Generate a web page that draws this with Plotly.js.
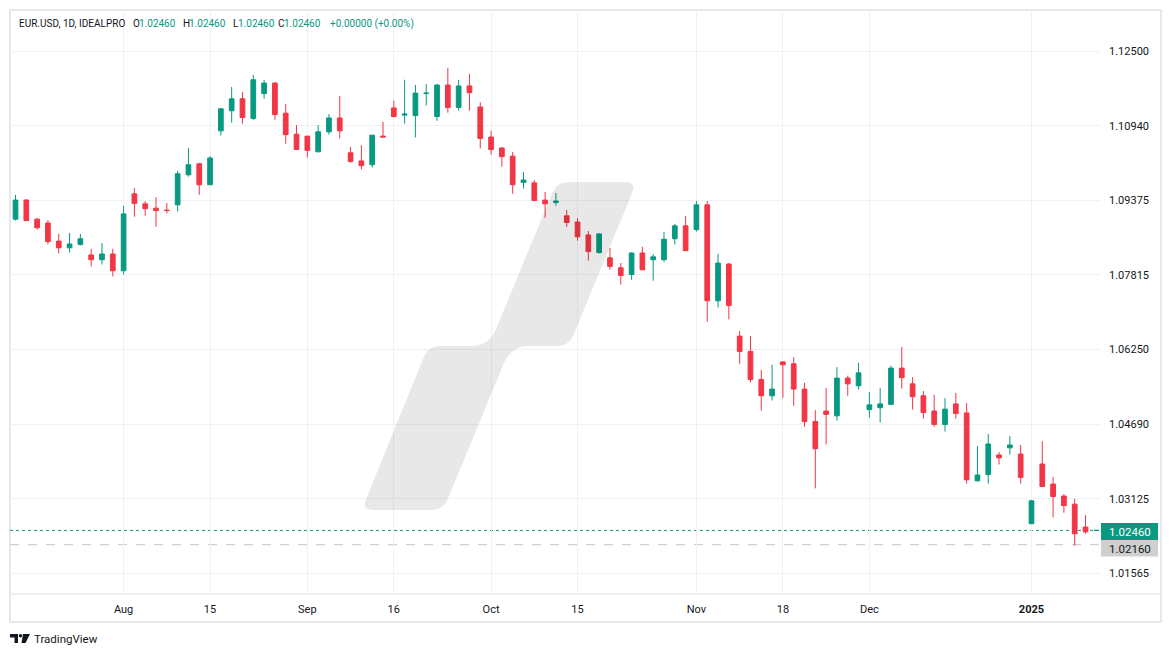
<!DOCTYPE html>
<html>
<head>
<meta charset="utf-8">
<script src="https://cdn.plot.ly/plotly-3.0.1.min.js"></script>
<style>
html,body{margin:0;padding:0;background:#fff;}
#chart{width:1171px;height:657px;}
</style>
</head>
<body>
<div id="chart"></div>
<script>
// ---- data (EUR.USD daily bars) ----
const open = [
1.0898,1.0938,1.0898,1.0890,1.0852,1.0838,1.0845,1.0823,1.0813,1.0825,
1.0790,1.0951,1.0930,1.0921,1.0917,1.0928,1.0991,1.1014,1.0970,1.1083,
1.1125,1.1150,1.1109,1.1161,1.1183,1.1120,1.1076,1.1072,1.1039,1.1081,
1.1110,1.1037,1.1020,1.1012,1.1072,1.1131,1.1116,1.1115,1.1161,1.1113,
1.1179,1.1132,1.1177,1.1133,1.1070,1.1047,1.1030,1.0975,1.0974,1.0938,
1.0933,1.0905,1.0892,1.0865,1.0828,1.0817,1.0796,1.0782,1.0827,1.0813,
1.0813,1.0857,1.0884,1.0876,1.0928,1.0727,1.0804,1.0653,1.0621,1.0562,
1.0528,1.0599,1.0595,1.0542,1.0474,1.0496,1.0486,1.0565,1.0549,1.0499,
1.0503,1.0510,1.0586,1.0553,1.0528,1.0496,1.0468,1.0511,1.0492,1.0350,
1.0363,1.0404,1.0419,1.0406,1.0260,1.0385,1.0343,1.0318,1.0301,1.0253,
1.0246];
const high = [
1.0949,1.0940,1.0900,1.0896,1.0867,1.0869,1.0867,1.0836,1.0848,1.0836,
1.0926,1.0963,1.0936,1.0944,1.0932,1.0999,1.1047,1.1016,1.1030,1.1131,
1.1175,1.1164,1.1200,1.1190,1.1185,1.1139,1.1095,1.1072,1.1095,1.1118,
1.1156,1.1049,1.1053,1.1074,1.1102,1.1146,1.1190,1.1179,1.1181,1.1181,
1.1215,1.1190,1.1202,1.1143,1.1083,1.1049,1.1039,1.0997,1.0980,1.0955,
1.0953,1.0917,1.0900,1.0873,1.0869,1.0838,1.0806,1.0829,1.0840,1.0825,
1.0871,1.0888,1.0905,1.0936,1.0936,1.0825,1.0806,1.0664,1.0653,1.0582,
1.0593,1.0600,1.0609,1.0555,1.0498,1.0544,1.0588,1.0570,1.0597,1.0536,
1.0544,1.0591,1.0630,1.0567,1.0538,1.0530,1.0523,1.0534,1.0513,1.0423,
1.0448,1.0410,1.0444,1.0425,1.0310,1.0433,1.0358,1.0322,1.0312,1.0278,
1.0246];
const low = [
1.0895,1.0895,1.0876,1.0845,1.0826,1.0828,1.0843,1.0799,1.0803,1.0778,
1.0782,1.0903,1.0905,1.0882,1.0910,1.0914,1.0987,1.0949,1.0970,1.1073,
1.1100,1.1098,1.1106,1.1150,1.1106,1.1056,1.1043,1.1027,1.1039,1.1075,
1.1067,1.1016,1.1002,1.1006,1.1070,1.1111,1.1098,1.1069,1.1136,1.1104,
1.1121,1.1125,1.1125,1.1046,1.1033,1.1008,1.0951,1.0962,1.0937,1.0901,
1.0926,1.0882,1.0853,1.0811,1.0826,1.0792,1.0761,1.0771,1.0792,1.0769,
1.0809,1.0845,1.0832,1.0872,1.0683,1.0713,1.0688,1.0595,1.0556,1.0497,
1.0518,1.0524,1.0507,1.0463,1.0334,1.0426,1.0476,1.0528,1.0541,1.0482,
1.0472,1.0510,1.0543,1.0499,1.0480,1.0463,1.0453,1.0480,1.0344,1.0348,
1.0344,1.0384,1.0405,1.0344,1.0260,1.0338,1.0273,1.0283,1.0214,1.0239,
1.0246];
const close = [
1.0938,1.0895,1.0880,1.0851,1.0838,1.0846,1.0857,1.0813,1.0825,1.0790,
1.0909,1.0931,1.0920,1.0916,1.0916,1.0993,1.1012,1.0970,1.1026,1.1129,
1.1150,1.1111,1.1190,1.1183,1.1117,1.1075,1.1044,1.1042,1.1081,1.1110,
1.1083,1.1019,1.1010,1.1074,1.1070,1.1113,1.1118,1.1162,1.1162,1.1179,
1.1132,1.1177,1.1163,1.1067,1.1044,1.1029,1.0970,1.0980,1.0937,1.0930,
1.0936,1.0891,1.0861,1.0830,1.0867,1.0799,1.0780,1.0827,1.0792,1.0819,
1.0856,1.0884,1.0832,1.0928,1.0727,1.0806,1.0717,1.0621,1.0562,1.0528,
1.0542,1.0593,1.0542,1.0474,1.0417,1.0489,1.0565,1.0553,1.0576,1.0509,
1.0511,1.0586,1.0566,1.0526,1.0493,1.0468,1.0500,1.0491,1.0352,1.0362,
1.0427,1.0398,1.0425,1.0357,1.0308,1.0338,1.0317,1.0298,1.0239,1.0243,
1.0246];

// date tick labels, placed at bar numbers
const tickBars   = [10, 18, 27, 35, 44, 52, 63, 71, 79, 94];
const tickLabels = ['Aug', '15', 'Sep', '16', 'Oct', '15', 'Nov', '18', 'Dec', '<b>2025</b>'];

// price scale ticks (1/64 steps) and their labels
const priceTicks  = [1.015625, 1.03125, 1.046875, 1.0625, 1.078125, 1.09375, 1.109375, 1.125];
const priceLabels = ['1.01565', '1.03125', '1.04690', '1.06250', '1.07815', '1.09375', '1.10940', '1.12500'];

const symbol = 'EUR.USD, 1D, IDEALPRO';
const lastPrice = 1.0246;
const lastPriceLabel = '1.02460';
const lowMark = 1.0216;
const lowMarkLabel = '1.02160';
const changeText = '+0.00000 (+0.00%)';

// ---- layout helpers ----
const W = 1171, H = 657;
const L = 10, R = 1100, T = 10, B = 594;
const px = X => (X - L) / (R - L);
const py = Y => (B - Y) / (B - T);

const bars = open.map((_, i) => i);
const GREEN = '#089981', RED = '#F23645', TXT = '#131722';

const trace = {
  type: 'candlestick',
  x: bars, open: open, high: high, low: low, close: close,
  increasing: {line: {color: GREEN, width: 1}, fillcolor: GREEN},
  decreasing: {line: {color: RED, width: 1}, fillcolor: RED},
  whiskerwidth: 0,
  hoverinfo: 'skip',
  showlegend: false
};

// watermark (slanted step shape) in pixel space -> paper
function P(X, Y) { return px(X).toFixed(5) + ',' + py(Y).toFixed(5); }
const wm = 'M' + P(373.6,510) + ' L' + P(431.3,510) + ' Q' + P(443.3,510) + ' ' + P(447.8,498.9) +
  ' L' + P(504.2,362.6) + ' Q' + P(511,346) + ' ' + P(529,346) +
  ' L' + P(557,346) + ' Q' + P(569,346) + ' ' + P(573.5,334.9) +
  ' L' + P(632.1,193.1) + ' Q' + P(636.6,182) + ' ' + P(624.6,182) +
  ' L' + P(568.7,182) + ' Q' + P(556.7,182) + ' ' + P(552.2,193.1) +
  ' L' + P(495.8,329.4) + ' Q' + P(489,346) + ' ' + P(471,346) +
  ' L' + P(440.3,346) + ' Q' + P(428.3,346) + ' ' + P(423.8,357.1) +
  ' L' + P(366.1,498.9) + ' Q' + P(361.6,510) + ' ' + P(373.6,510) + ' Z';

// TradingView logo (bottom-left)
const logo1 = 'M' + P(10,634) + ' L' + P(18,634) + ' L' + P(18,643) + ' L' + P(14.5,643) + ' L' + P(14.5,637.5) + ' L' + P(10,637.5) + ' Z';
const logo2 = 'M' + P(23,634) + ' L' + P(30,634) + ' L' + P(25.5,643) + ' L' + P(21.5,643) + ' Z';

const shapes = [
  // outer frame
  {type:'rect', xref:'paper', yref:'paper', x0:px(10), x1:px(1161), y0:py(10), y1:py(622),
   line:{color:'#e6e8ee', width:2}, fillcolor:'rgba(0,0,0,0)', layer:'below'},
  // time axis separator
  {type:'line', xref:'paper', yref:'paper', x0:px(10), x1:px(1161), y0:py(594), y1:py(594),
   line:{color:'#e0e3eb', width:1}},
  // last price dotted line
  {type:'line', xref:'paper', yref:'y', x0:0, x1:1, y0:lastPrice, y1:lastPrice,
   line:{color:GREEN, width:1, dash:'dot'}, layer:'below'},
  // low marker dashed line
  {type:'line', xref:'paper', yref:'y', x0:0, x1:1, y0:lowMark, y1:lowMark,
   line:{color:'#c3c3c3', width:1, dash:'dash'}, layer:'below'},
  // watermark
  {type:'path', xref:'paper', yref:'paper', path: wm, fillcolor:'rgba(0,0,0,0.09)', line:{width:0}, layer:'above'},
  // price label boxes
  {type:'rect', xref:'paper', yref:'paper', x0:px(1101), x1:px(1158), y0:py(523), y1:py(540),
   fillcolor:GREEN, line:{width:0}},
  {type:'rect', xref:'paper', yref:'paper', x0:px(1101), x1:px(1158), y0:py(540), y1:py(556.5),
   fillcolor:'#cfcfcf', line:{width:0}},
  // logo
  {type:'path', xref:'paper', yref:'paper', path: logo1, fillcolor:TXT, line:{width:0}},
  {type:'circle', xref:'paper', yref:'paper', x0:px(18.8), x1:px(22.2), y0:py(634), y1:py(637.4), fillcolor:TXT, line:{width:0}},
  {type:'path', xref:'paper', yref:'paper', path: logo2, fillcolor:TXT, line:{width:0}}
];

const F = 'Roboto, "Liberation Sans", sans-serif';
function ann(text, X, Y, color, size, extra) {
  return Object.assign({text: text, xref:'paper', yref:'paper', x: px(X), y: py(Y),
    xanchor:'left', yanchor:'middle', showarrow:false,
    font:{family:F, size:size || 11, color:color}}, extra || {});
}
const hdrY = 24, hs = 10;
const annotations = [
  ann(symbol, 17, hdrY, TXT, hs),
  ann('O', 131, hdrY, TXT, hs), ann(lastPriceLabel, 136.5, hdrY, GREEN, hs),
  ann('H', 181, hdrY, TXT, hs), ann(lastPriceLabel, 186.5, hdrY, GREEN, hs),
  ann('L', 230.5, hdrY, TXT, hs), ann(lastPriceLabel, 235.5, hdrY, GREEN, hs),
  ann('C', 276, hdrY, TXT, hs), ann(lastPriceLabel, 282, hdrY, GREEN, hs),
  ann(changeText, 328, hdrY, GREEN, hs),
  ann(lastPriceLabel, 1107, 531.5, '#ffffff', 11.5),
  ann(lowMarkLabel, 1107, 548.5, TXT, 11.5),
  ann('TradingView', 32, 638.5, TXT, 11.5)
];

const layout = {
  width: W, height: H,
  margin: {l: L, r: W - R, t: T, b: H - B, pad: 0},
  paper_bgcolor: '#ffffff', plot_bgcolor: '#ffffff',
  showlegend: false,
  boxgap: 0.38,
  font: {family: F, size: 11, color: TXT},
  xaxis: {
    type: 'linear', range: [-0.51, 100.34],
    tickmode: 'array', tickvals: tickBars, ticktext: tickLabels,
    showgrid: true, gridcolor: '#f0f1f4', gridwidth: 1,
    zeroline: false, showline: false, ticks: '',
    ticklabelstandoff: 7,
    tickfont: {family: F, size: 11, color: TXT},
    rangeslider: {visible: false}, fixedrange: true
  },
  yaxis: {
    side: 'right', range: [1.01128, 1.13361],
    tickmode: 'array', tickvals: priceTicks, ticktext: priceLabels,
    showgrid: true, gridcolor: '#f0f1f4', gridwidth: 1,
    zeroline: false, showline: false, ticks: '',
    ticklabelstandoff: 8,
    tickfont: {family: F, size: 11, color: TXT}, fixedrange: true
  },
  shapes: shapes,
  annotations: annotations
};

Plotly.newPlot('chart', [trace], layout, {displayModeBar: false, staticPlot: true});
</script>
</body>
</html>
